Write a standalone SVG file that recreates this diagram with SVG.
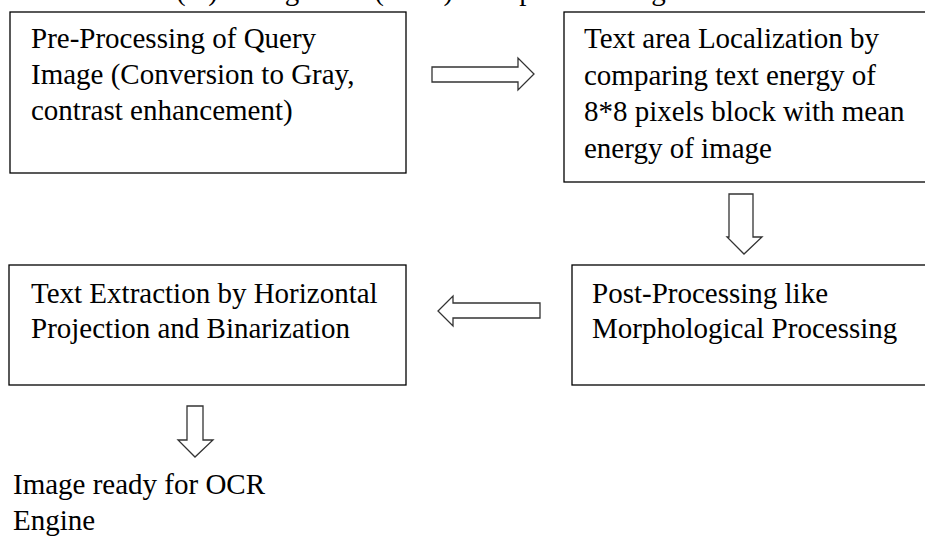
<svg xmlns="http://www.w3.org/2000/svg" width="925" height="543" viewBox="0 0 925 543">
<style>
.box{fill:#fff;stroke:#000;stroke-width:1.3}
.arr{fill:#fff;stroke:#333;stroke-width:1.3;stroke-linejoin:miter}
text{font-family:"Liberation Serif","Times New Roman",serif;font-size:29px;fill:#000}
</style>
<rect width="925" height="543" fill="#fff"/>
<text x="127" y="0">and (iv) Recognition (OCR) as depicted in Fig.</text>
<g id="node-preprocessing">
<rect class="box" x="10" y="12" width="396" height="161"/>
<text x="31" y="48">Pre-Processing of Query</text>
<text x="31" y="84">Image (Conversion to Gray,</text>
<text x="31" y="120">contrast enhancement)</text>
</g>
<g id="node-localization">
<rect class="box" x="564" y="12" width="380" height="170"/>
<text x="584" y="48">Text area Localization by</text>
<text x="584" y="84.5">comparing text energy of</text>
<text x="584" y="121">8*8 pixels block with mean</text>
<text x="584" y="157.5">energy of image</text>
</g>
<g id="node-postprocessing">
<rect class="box" x="572" y="265" width="380" height="120"/>
<text x="592" y="303">Post-Processing like</text>
<text x="592" y="338">Morphological Processing</text>
</g>
<g id="node-extraction">
<rect class="box" x="9" y="265" width="397" height="120"/>
<text x="31" y="303">Text Extraction by Horizontal</text>
<text x="31" y="338">Projection and Binarization</text>
</g>
<g id="node-output">
<text x="13" y="494">Image ready for OCR</text>
<text x="13" y="530">Engine</text>
</g>
<g id="connectors">
<polygon class="arr" points="432,67 518,67 518,58 534,74 518,90 518,82 432,82"/>
<polygon class="arr" points="729,194 753,194 753,237 762,237 744,254 727,237 729,237"/>
<polygon class="arr" points="540,303 453,303 453,296 438,311 453,326 453,318 540,318"/>
<polygon class="arr" points="187,406 203,406 203,440 213,440 195,457 178,440 187,440"/>
</g>
</svg>
